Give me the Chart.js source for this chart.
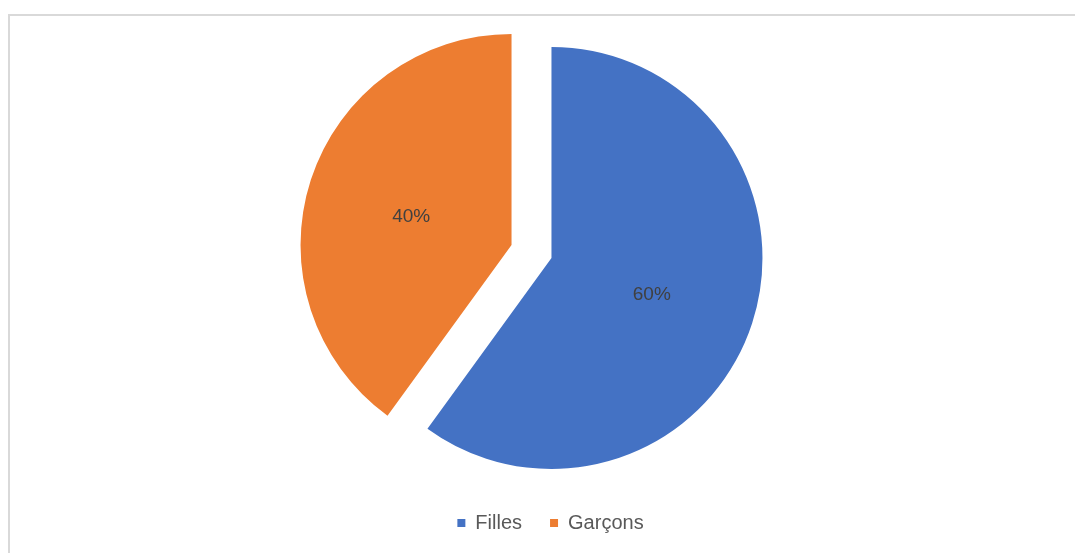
<!DOCTYPE html>
<html>
<head>
<meta charset="utf-8">
<script src="https://cdn.jsdelivr.net/npm/chart.js@4.4.1/dist/chart.umd.min.js"></script>
<style>
  html, body { margin: 0; padding: 0; background: #fff; overflow: hidden; }
  #wrap { position: relative; width: 1075px; height: 553px; }
  #frame {
    position: absolute; left: 8px; top: 14px;
    width: 1200px; height: 700px;
    border: 2px solid #d9d9d9; box-sizing: border-box;
  }
  #chart-box { position: absolute; left: 0; top: 0; width: 1075px; height: 553px; }
</style>
</head>
<body>
<div id="wrap">
  <div id="frame"></div>
  <div id="chart-box"><canvas id="pieChart"></canvas></div>
</div>
<script>
const labels = ["Filles", "Garçons"];
const values = [60, 40];
const colors = ["#4472C4", "#ED7D31"];

const fontFamily = "'Liberation Sans', Arial, sans-serif";
const explode = 21; // px each slice is pulled out from the centre

// pull each slice out along its bisector (Excel-style explosion)
const explodeSlices = {
  id: "explodeSlices",
  afterDatasetUpdate(chart, args) {
    args.meta.data.forEach(arc => {
      const mid = (arc.startAngle + arc.endAngle) / 2;
      arc.x += Math.cos(mid) * explode;
      arc.y += Math.sin(mid) * explode;
    });
  }
};

// Percent labels inside each slice (no datalabels plugin available)
const percentLabels = {
  id: "percentLabels",
  afterDatasetsDraw(chart) {
    const ctx = chart.ctx;
    const meta = chart.getDatasetMeta(0);
    const total = values.reduce((a, b) => a + b, 0);
    ctx.save();
    ctx.font = "19px " + fontFamily;
    ctx.fillStyle = "#404040";
    ctx.textAlign = "center";
    ctx.textBaseline = "middle";
    meta.data.forEach((arc, i) => {
      const mid = (arc.startAngle + arc.endAngle) / 2;
      const d = arc.outerRadius / 2;
      const pct = Math.round(values[i] / total * 100) + "%";
      ctx.fillText(pct, arc.x + Math.cos(mid) * d, arc.y + Math.sin(mid) * d + 4);
    });
    ctx.restore();
  }
};

// legend sits a bit right of the pie centre in the original
const shiftLegend = {
  id: "shiftLegend",
  afterLayout(chart) {
    chart.legend.left += 19;
    chart.legend.right += 19;
  }
};

new Chart(document.getElementById("pieChart"), {
  type: "pie",
  data: {
    labels,
    datasets: [{
      data: values,
      backgroundColor: colors,
      borderWidth: 0
    }]
  },
  options: {
    responsive: true,
    maintainAspectRatio: false,
    animation: false,
    radius: 211,
    layout: { padding: { left: 0, right: 12, top: 18, bottom: 10 } },
    plugins: {
      tooltip: { enabled: false },
      legend: {
        position: "bottom",
        labels: {
          boxWidth: 8,
          boxHeight: 8,
          padding: 28,
          color: "#595959",
          font: { family: fontFamily, size: 20 }
        }
      }
    }
  },
  plugins: [explodeSlices, percentLabels, shiftLegend]
});
</script>
</body>
</html>
